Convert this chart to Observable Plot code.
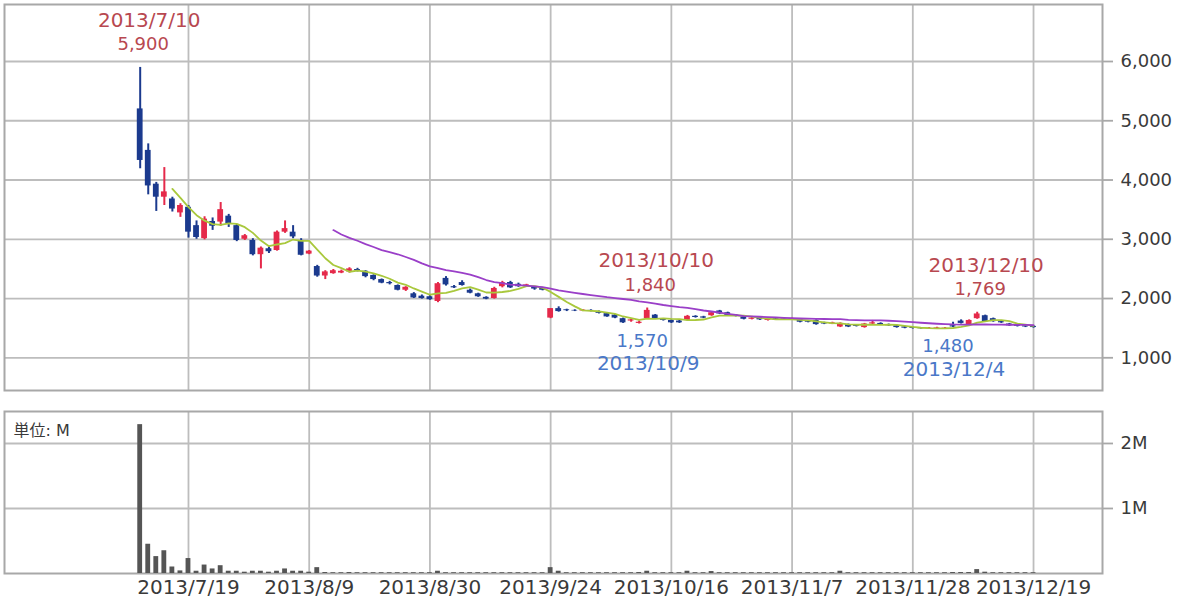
<!DOCTYPE html>
<html><head><meta charset="utf-8">
<script src="https://cdn.jsdelivr.net/npm/d3@7"></script>
<script src="https://cdn.jsdelivr.net/npm/@observablehq/plot@0.6"></script>
<style>
body{margin:0;background:#fff;}
#chart svg{display:block;}
</style>
</head><body><div id="chart"></div>
<script>
const dates = ["2013/7/10","2013/7/11","2013/7/12","2013/7/16","2013/7/17","2013/7/18","2013/7/19","2013/7/22","2013/7/23","2013/7/24","2013/7/25","2013/7/26","2013/7/29","2013/7/30","2013/7/31",
"2013/8/1","2013/8/2","2013/8/5","2013/8/6","2013/8/7","2013/8/8","2013/8/9","2013/8/12","2013/8/13","2013/8/14","2013/8/15","2013/8/16","2013/8/19","2013/8/20","2013/8/21","2013/8/22","2013/8/23","2013/8/26","2013/8/27","2013/8/28","2013/8/29","2013/8/30",
"2013/9/2","2013/9/3","2013/9/4","2013/9/5","2013/9/6","2013/9/9","2013/9/10","2013/9/11","2013/9/12","2013/9/13","2013/9/17","2013/9/18","2013/9/19","2013/9/20","2013/9/24","2013/9/25","2013/9/26","2013/9/27","2013/9/30",
"2013/10/1","2013/10/2","2013/10/3","2013/10/4","2013/10/7","2013/10/8","2013/10/9","2013/10/10","2013/10/11","2013/10/15","2013/10/16","2013/10/17","2013/10/18","2013/10/21","2013/10/22","2013/10/23","2013/10/24","2013/10/25","2013/10/28","2013/10/29","2013/10/30","2013/10/31",
"2013/11/1","2013/11/5","2013/11/6","2013/11/7","2013/11/8","2013/11/11","2013/11/12","2013/11/13","2013/11/14","2013/11/15","2013/11/18","2013/11/19","2013/11/20","2013/11/21","2013/11/22","2013/11/25","2013/11/26","2013/11/27","2013/11/28","2013/11/29",
"2013/12/2","2013/12/3","2013/12/4","2013/12/5","2013/12/6","2013/12/9","2013/12/10","2013/12/11","2013/12/12","2013/12/13","2013/12/16","2013/12/17","2013/12/18","2013/12/19"];

const open = [5200,4500,3930,3710,3680,3445,3540,3230,3010,3300,3290,3390,3230,3000,2980,
2740,2840,2810,3120,3120,2980,2750,2540,2380,2420,2430,2450,2490,2460,2390,2320,2270,2220,2140,2080,2040,2030,
1950,2340,2200,2270,2140,2080,2020,2000,2200,2270,2240,2200,2190,2170,1670,1830,1810,1800,1790,
1800,1780,1745,1720,1660,1620,1580,1660,1720,1650,1630,1620,1630,1700,1690,1710,1790,1760,1720,1690,1650,1680,
1630,1660,1660,1645,1650,1620,1630,1590,1570,1520,1560,1550,1510,1570,1580,1560,1540,1520,1510,1500,
1490,1495,1490,1540,1620,1560,1660,1710,1660,1610,1570,1550,1540,1530];

const high = [5900,4610,3960,4210,3710,3600,3570,3310,3380,3360,3620,3420,3250,3080,3010,
2870,2870,3140,3310,3230,3010,2810,2560,2470,2490,2480,2520,2510,2470,2400,2330,2290,2230,2200,2100,2060,2050,
2270,2370,2220,2300,2160,2090,2030,2190,2290,2290,2260,2240,2200,2180,1830,1860,1820,1810,1810,
1810,1790,1755,1730,1670,1650,1620,1840,1730,1660,1640,1630,1715,1710,1700,1770,1800,1770,1730,1700,1680,1690,
1660,1670,1670,1670,1660,1630,1640,1600,1600,1590,1570,1560,1580,1630,1590,1570,1550,1530,1520,1510,
1510,1515,1510,1600,1640,1640,1769,1720,1670,1620,1580,1560,1550,1540];

const low = [4190,3750,3470,3570,3460,3370,3020,3000,2990,3150,3220,3200,2960,2980,2720,
2500,2760,2800,3100,3010,2720,2740,2360,2320,2410,2420,2430,2450,2350,2300,2250,2230,2130,2120,2000,1990,1970,
1930,2210,2170,2210,2080,2020,1980,1990,2180,2170,2190,2190,2140,2130,1660,1770,1780,1780,1780,
1775,1740,1685,1660,1580,1600,1570,1650,1650,1620,1580,1580,1620,1670,1660,1700,1730,1710,1690,1640,1640,1630,
1620,1630,1640,1640,1590,1590,1550,1560,1560,1510,1510,1520,1500,1560,1550,1530,1500,1490,1485,1485,
1485,1490,1480,1510,1570,1550,1650,1600,1600,1580,1530,1520,1510,1500];

const close = [4330,3900,3710,3800,3510,3570,3120,3030,3340,3220,3500,3260,2980,3060,2740,
2850,2790,3120,3180,3040,2730,2800,2380,2450,2470,2460,2500,2470,2370,2320,2260,2250,2140,2190,2010,2000,1980,
2250,2230,2180,2220,2090,2030,1990,2170,2270,2180,2200,2230,2160,2140,1830,1780,1795,1790,1805,
1785,1750,1690,1670,1590,1640,1600,1800,1660,1630,1590,1590,1700,1680,1670,1760,1740,1715,1700,1650,1670,1640,
1650,1640,1650,1660,1600,1600,1560,1570,1590,1580,1520,1530,1570,1590,1560,1540,1510,1500,1495,1490,
1500,1505,1500,1520,1580,1630,1740,1610,1610,1590,1540,1530,1520,1510];

// volume in millions of shares
const volume = [2.29,0.45,0.26,0.35,0.10,0.04,0.23,0.035,0.13,0.07,0.12,0.035,0.035,0.02,0.035,
0.035,0.02,0.035,0.07,0.035,0.035,0.02,0.09,0.015,0.012,0.012,0.015,0.012,0.012,0.012,0.012,0.012,0.012,0.012,0.012,0.012,0.012,
0.035,0.012,0.012,0.012,0.012,0.012,0.012,0.012,0.012,0.012,0.012,0.012,0.012,0.012,0.09,0.035,0.012,0.012,0.012,
0.012,0.012,0.012,0.012,0.012,0.012,0.015,0.035,0.012,0.012,0.012,0.012,0.035,0.012,0.012,0.03,0.012,0.012,0.012,0.012,0.012,0.012,
0.012,0.012,0.012,0.012,0.012,0.012,0.012,0.012,0.012,0.035,0.012,0.012,0.012,0.012,0.012,0.012,0.012,0.012,0.012,0.012,
0.012,0.012,0.012,0.015,0.015,0.015,0.06,0.02,0.012,0.012,0.012,0.012,0.012,0.012];

const tickLabels = ["2013/7/19","2013/8/9","2013/8/30","2013/9/24","2013/10/16","2013/11/7","2013/11/28","2013/12/19"];
const priceTicks = [1000,2000,3000,4000,5000,6000];
const volumeTicks = [1,2];
const unitLabel = "単位: M";

const highDates = ["2013/7/10","2013/10/10","2013/12/10"];
const highValues = [5900,1840,1769];
const lowDates = ["2013/10/9","2013/12/4"];
const lowValues = [1570,1480];

// ---- build table ----
const data = dates.map((d,i)=>({i, date:d, open:open[i], high:high[i], low:low[i], close:close[i], volume:volume[i]}));
const tickIdx = tickLabels.map(d => dates.indexOf(d));
const xDomain = [-16.86, 119.57];

const RED = "#e5294a", BLUE = "#1b3a8e", GRID = "#bdbdbd", FRAME = "#a8a8a8", TXT = "#3a3a3a";
const upColor = d => d.close >= d.open ? RED : BLUE;
const fmt = d3.format(",");
const FONT = "DejaVu Sans, Noto Sans CJK JP, sans-serif";

const topPlot = Plot.plot({
  width: 1200, height: 395,
  marginLeft: 4, marginRight: 98, marginTop: 4, marginBottom: 5,
  x: {domain: xDomain, axis: null},
  y: {domain: [448, 6962], axis: null},
  color: {type: "identity"},
  style: {fontFamily: FONT, background: "white", color: TXT},
  marks: [
    Plot.gridY(priceTicks, {stroke: GRID, strokeOpacity: 1, strokeWidth: 1.8}),
    Plot.gridX(tickIdx, {stroke: GRID, strokeOpacity: 1, strokeWidth: 1.8}),
    Plot.frame({stroke: FRAME, strokeWidth: 2}),
    Plot.axisY(priceTicks, {anchor: "right", label: null, tickSize: 10, tickPadding: 8, tickFormat: fmt, fontSize: 18, stroke: FRAME, strokeWidth: 1.8, fill: TXT}),
    Plot.ruleX(data, {x: "i", y1: "low", y2: "high", stroke: upColor, strokeWidth: 2}),
    Plot.rect(data, {x1: d => d.i - 0.36, x2: d => d.i + 0.36, y1: "open", y2: "close", fill: upColor}),
    Plot.lineY(data, Plot.windowY({k: 5, anchor: "end", strict: true}, {x: "i", y: "close", stroke: "#a9c83c", strokeWidth: 1.8})),
    Plot.lineY(data, Plot.windowY({k: 25, anchor: "end", strict: true}, {x: "i", y: "close", stroke: "#9a3fc8", strokeWidth: 1.8})),
    Plot.text(highDates, {x: d => dates.indexOf(d), y: (d,i) => highValues[i], text: d => d, dx: 9, dy: -47, fontSize: 20, fill: "#b84850", lineAnchor: "middle"}),
    Plot.text(highDates, {x: d => dates.indexOf(d), y: (d,i) => highValues[i], text: (d,i) => fmt(highValues[i]), dx: 3, dy: -23, fontSize: 18, fill: "#b84850", lineAnchor: "middle"}),
    Plot.text(lowDates, {x: d => dates.indexOf(d), y: (d,i) => lowValues[i], text: (d,i) => fmt(lowValues[i]), dx: 3, dy: 17, fontSize: 18, fill: "#4a78c8", lineAnchor: "middle"}),
    Plot.text(lowDates, {x: d => dates.indexOf(d), y: (d,i) => lowValues[i], text: d => d, dx: 9, dy: 40, fontSize: 20, fill: "#4a78c8", lineAnchor: "middle"})
  ]
});

const botPlot = Plot.plot({
  width: 1200, height: 205,
  marginLeft: 4, marginRight: 98, marginTop: 16, marginBottom: 27,
  x: {domain: xDomain, axis: null, label: null},
  y: {domain: [0, 2.492], axis: null, label: null},
  style: {fontFamily: FONT, background: "white", color: TXT},
  marks: [
    Plot.gridY(volumeTicks, {stroke: GRID, strokeOpacity: 1, strokeWidth: 1.8}),
    Plot.gridX(tickIdx, {stroke: GRID, strokeOpacity: 1, strokeWidth: 1.8}),
    Plot.frame({stroke: FRAME, strokeWidth: 2}),
    Plot.axisY(volumeTicks, {anchor: "right", label: null, tickSize: 10, tickPadding: 8, tickFormat: d => d + "M", fontSize: 18, stroke: FRAME, strokeWidth: 1.8, fill: TXT}),
    Plot.axisX(tickIdx, {anchor: "bottom", label: null, tickSize: 0, tickPadding: 6, tickFormat: i => dates[i], fontSize: 20, fill: TXT}),
    Plot.rect(data, {x1: d => d.i - 0.3, x2: d => d.i + 0.3, y1: 0, y2: "volume", fill: "#555555"}),
    Plot.text([unitLabel], {frameAnchor: "top-left", dx: 9, dy: 19, text: d => d, fontSize: 16, fill: TXT, textAnchor: "start", lineAnchor: "middle"})
  ]
});

const chart = document.getElementById("chart");
chart.appendChild(topPlot);
chart.appendChild(botPlot);
</script>
</body></html>
